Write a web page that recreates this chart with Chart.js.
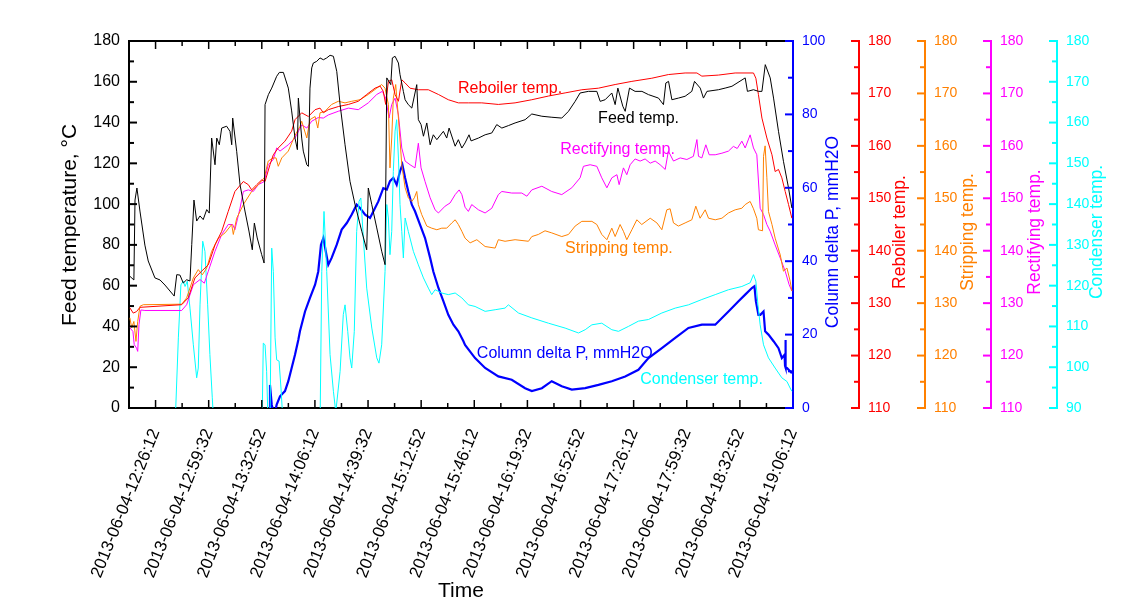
<!DOCTYPE html>
<html><head><meta charset="utf-8">
<script src="https://cdn.jsdelivr.net/npm/chart.js@4.4.1/dist/chart.umd.min.js"></script>
<style>html,body{margin:0;padding:0;background:#fff;}canvas{display:block;}</style>
</head><body>
<canvas id="c" width="1121" height="612"></canvas>
<script>
// x values: minutes after 2013-06-04 12:26:12
const timeTickLabels = ['2013-06-04-12:26:12','2013-06-04-12:59:32','2013-06-04-13:32:52','2013-06-04-14:06:12','2013-06-04-14:39:32','2013-06-04-15:12:52','2013-06-04-15:46:12','2013-06-04-16:19:32','2013-06-04-16:52:52','2013-06-04-17:26:12','2013-06-04-17:59:32','2013-06-04-18:32:52','2013-06-04-19:06:12'];

const feedTemp = [[-16.1,64.6],[-13.6,62.8],[-12.9,102.0],[-11.7,107.9],[-9.8,96.6],[-6.7,79.9],[-4.6,72.1],[-0.4,63.8],[2.8,62.8],[5.9,60.3],[10.1,56.4],[11.7,54.9],[13.3,65.4],[15.3,65.2],[17.4,61.3],[19.5,62.9],[21.6,62.3],[22.7,80.1],[24.1,102.0],[25.8,91.7],[27.9,94.2],[29.9,92.4],[32.1,97.3],[33.7,95.6],[35.2,132.4],[37.3,119.3],[38.4,132.4],[40.0,129.1],[41.5,137.3],[44.6,138.2],[46.7,135.7],[47.8,129.1],[48.4,142.2],[50.9,125.9],[53.0,109.5],[56.1,96.6],[58.6,86.8],[60.7,77.6],[62.0,90.7],[63.8,83.4],[66.6,75.2],[68.1,71.1],[68.7,148.8],[70.8,153.7],[72.9,156.9],[76.0,162.7],[77.7,164.6],[80.2,164.6],[83.3,156.9],[85.4,145.7],[87.5,132.4],[89.0,126.7],[89.6,152.0],[91.7,132.4],[92.7,126.0],[94.9,119.3],[95.9,118.5],[96.9,156.9],[98.0,166.8],[99.0,169.2],[101.1,170.0],[103.2,171.7],[105.3,170.8],[107.4,171.7],[109.5,173.0],[111.6,172.5],[113.7,165.1],[115.8,148.8],[118.9,129.1],[122.0,111.2],[125.2,99.7],[129.4,86.7],[132.5,77.6],[133.5,107.9],[135.7,99.7],[138.8,88.3],[141.9,76.9],[144.0,70.3],[145.1,161.9],[147.6,158.6],[148.6,171.7],[150.3,172.5],[152.4,169.2],[153.4,163.5],[155.5,155.3],[156.6,151.2],[158.6,148.8],[160.8,147.1],[163.9,158.6],[164.9,141.4],[166.6,139.0],[168.1,133.3],[170.2,139.8],[172.3,129.1],[174.3,134.0],[176.5,131.6],[180.6,135.7],[182.7,132.4],[184.2,137.3],[188.0,128.4],[190.0,131.6],[192.2,127.5],[194.2,130.0],[196.7,134.0],[198.0,131.0],[202.6,132.4],[206.8,134.0],[211.0,134.9],[214.1,139.0],[217.3,137.3],[221.4,138.5],[225.6,139.8],[231.9,141.4],[236.1,144.2],[242.4,143.1],[248.7,142.6],[254.9,142.2],[259.1,145.5],[263.3,150.4],[266.4,154.5],[271.6,155.3],[276.9,155.3],[279.0,150.4],[282.1,151.2],[286.3,154.5],[288.4,148.8],[290.1,156.9],[293.2,148.0],[294.7,145.5],[297.4,156.9],[300.9,155.3],[305.2,155.3],[309.3,153.7],[315.6,152.0],[318.7,148.8],[320.2,159.4],[321.9,160.2],[324.0,151.2],[328.1,152.0],[332.3,152.9],[336.5,155.3],[338.2,160.2],[341.8,156.9],[343.8,152.0],[346.0,155.3],[353.2,156.1],[357.4,156.9],[361.7,157.8],[370.0,161.9],[371.4,155.3],[375.2,156.1],[378.4,155.3],[380.5,155.3],[382.6,168.4],[385.7,161.9],[387.8,152.0],[390.9,135.7],[394.0,121.0],[397.2,107.9],[399.3,98.1]];

const reboilerTemp = [[-16.1,129.1],[-14.0,128.1],[-11.9,128.4],[-9.8,129.2],[16.4,129.7],[20.5,131.0],[24.7,134.8],[28.9,136.1],[33.1,137.3],[37.3,141.1],[41.5,143.7],[45.6,147.5],[49.8,151.3],[55.1,153.2],[58.2,152.6],[60.3,151.6],[63.5,152.6],[66.6,153.5],[68.7,153.2],[71.8,156.4],[73.9,158.3],[77.0,159.6],[81.2,160.9],[85.4,162.8],[87.5,165.0],[91.7,166.3],[95.9,165.6],[100.1,166.9],[103.2,167.2],[105.3,166.3],[108.4,166.9],[114.7,167.5],[121.0,167.9],[127.2,168.5],[132.5,169.8],[137.7,171.0],[140.9,171.4],[142.9,170.4],[144.4,167.9],[146.1,172.3],[148.2,172.6],[150.3,169.8],[152.4,168.5],[154.5,172.6],[156.6,172.0],[159.7,171.0],[164.9,170.7],[171.2,170.7],[177.5,169.8],[183.7,168.8],[190.0,168.2],[196.3,168.2],[204.7,168.2],[215.1,167.9],[225.6,168.2],[236.1,168.8],[246.5,169.5],[257.0,170.1],[267.5,170.7],[277.9,171.0],[288.4,171.7],[298.9,172.3],[311.4,172.9],[321.8,173.6],[332.3,173.9],[339.7,173.9],[342.8,173.3],[353.2,173.5],[363.7,173.9],[375.2,173.9],[376.7,172.9],[378.3,169.8],[380.5,165.3],[383.6,161.5],[386.8,158.3],[388.8,155.1],[390.9,155.5],[393.0,153.9],[395.1,151.3],[397.2,148.8],[399.3,146.2]];

const strippingTemp = [[-16.1,127.2],[-15.0,125.3],[-13.6,126.5],[-12.3,122.7],[-11.2,126.5],[-9.8,129.4],[-7.7,129.7],[16.4,129.8],[19.5,131.0],[23.7,134.8],[26.8,136.4],[29.3,135.4],[32.1,136.7],[35.2,139.9],[39.4,142.4],[43.6,143.4],[47.8,145.0],[48.8,143.1],[50.9,146.2],[55.1,148.8],[60.3,151.3],[64.5,152.6],[68.2,153.9],[70.7,157.1],[73.9,157.7],[75.6,157.7],[77.0,156.1],[79.2,157.7],[83.3,159.0],[87.5,162.0],[90.6,163.7],[91.7,164.7],[94.9,161.5],[96.9,165.0],[100.1,165.6],[101.8,163.4],[103.2,166.3],[106.3,166.6],[110.5,167.9],[114.7,168.5],[118.9,168.2],[123.1,168.5],[128.3,168.8],[133.5,169.8],[138.8,171.0],[141.9,171.7],[144.0,171.0],[146.1,167.9],[147.1,155.8],[148.2,161.5],[149.2,169.1],[150.7,171.7],[152.4,165.3],[154.5,156.4],[156.6,152.0],[158.6,150.1],[160.8,149.4],[162.4,150.1],[163.9,151.3],[164.9,148.8],[167.0,146.9],[170.2,144.7],[173.3,144.3],[176.5,144.0],[179.6,144.3],[182.7,144.3],[185.9,145.3],[188.0,145.9],[190.0,145.0],[192.2,143.7],[194.2,142.4],[197.4,141.5],[201.6,142.1],[206.8,140.8],[213.1,140.5],[215.1,142.1],[219.3,141.8],[225.6,142.1],[234.0,141.8],[236.1,142.7],[240.2,143.1],[244.4,143.8],[248.6,143.4],[254.9,142.7],[259.1,143.1],[263.3,144.7],[267.5,145.6],[273.8,145.6],[276.9,145.0],[280.0,143.1],[283.2,142.1],[286.3,144.3],[288.4,142.7],[291.5,145.0],[293.6,143.7],[295.7,142.1],[298.9,144.0],[302.0,145.9],[305.1,145.0],[310.4,146.2],[314.6,145.3],[317.7,144.0],[320.8,147.8],[322.9,148.0],[325.0,145.3],[328.1,144.7],[332.3,145.3],[336.5,145.9],[339.0,148.5],[341.7,146.2],[344.9,147.8],[347.0,146.2],[351.2,145.9],[355.4,146.2],[359.5,147.2],[363.7,147.8],[367.9,148.1],[370.0,148.8],[373.1,149.4],[375.2,148.0],[377.3,146.2],[378.3,144.0],[380.9,143.8],[381.5,158.0],[382.5,160.0],[383.6,153.9],[384.6,147.5],[386.8,145.0],[388.8,142.4],[392.0,139.2],[394.0,136.1],[396.2,136.7],[398.2,134.2],[399.3,132.3]];

const rectifyingTemp = [[-16.1,125.3],[-14.2,124.6],[-13.4,122.1],[-11.9,121.4],[-11.2,120.8],[-10.4,125.9],[-9.2,128.7],[-6.7,128.6],[16.4,128.6],[19.5,129.7],[23.7,133.5],[27.9,134.5],[30.6,133.8],[33.1,136.1],[37.3,139.9],[41.5,143.1],[45.6,145.0],[48.4,145.0],[49.8,144.0],[53.0,148.1],[55.1,151.3],[58.2,151.6],[61.3,151.3],[64.5,152.6],[68.2,153.2],[70.7,156.4],[73.9,157.4],[76.0,159.6],[78.1,159.0],[83.3,160.2],[87.5,161.5],[91.7,164.0],[94.9,163.4],[98.0,164.7],[102.1,165.4],[105.3,165.3],[108.4,165.9],[114.7,166.6],[121.0,167.2],[127.2,166.9],[133.5,168.2],[138.8,169.8],[142.3,170.4],[144.4,169.1],[146.5,165.3],[148.2,167.9],[150.3,169.1],[152.4,165.9],[154.5,159.6],[156.6,157.1],[159.7,156.4],[162.8,155.8],[164.9,160.5],[166.6,155.8],[169.1,153.2],[172.3,150.1],[175.4,147.8],[177.5,147.2],[181.7,148.5],[184.8,149.1],[188.0,150.7],[190.5,151.6],[192.2,150.7],[194.2,148.3],[196.3,147.5],[198.4,148.8],[202.6,147.8],[206.8,147.2],[211.0,148.1],[215.1,150.7],[217.3,151.3],[223.5,151.0],[229.8,151.0],[233.0,150.4],[236.1,151.6],[242.4,152.3],[248.6,151.3],[254.9,150.7],[261.2,152.0],[266.4,153.9],[268.5,156.1],[272.7,156.4],[276.9,156.1],[280.0,153.9],[283.2,152.0],[286.3,153.9],[289.5,154.5],[290.9,152.6],[293.6,155.8],[295.7,154.5],[297.8,156.4],[300.9,157.5],[304.1,157.1],[307.2,157.5],[310.4,156.7],[313.5,157.1],[316.6,156.4],[319.8,155.5],[321.8,159.0],[325.0,157.1],[329.2,157.7],[333.4,157.4],[337.5,158.0],[339.7,161.2],[340.7,158.0],[342.8,157.7],[345.3,160.2],[347.4,158.3],[351.2,158.3],[355.4,158.6],[359.5,159.0],[362.6,159.9],[365.0,159.5],[367.9,160.9],[370.0,159.6],[373.1,162.1],[375.2,159.6],[377.3,158.3],[379.4,148.1],[381.5,146.9],[383.6,145.0],[385.7,143.7],[388.8,141.1],[392.0,138.6],[395.1,136.1],[397.6,133.5],[399.3,132.3]];

const condenserTemp = [[-16.1,80],[12.2,85],[14.3,107.2],[15.9,120.2],[17.4,121.1],[18.5,119.8],[19.9,121.1],[21.6,114.5],[23.7,105.5],[25.8,97.4],[26.8,99.8],[27.9,115.3],[29.6,130.9],[31.0,128.4],[32.7,115.3],[34.1,103.1],[35.6,92.5],[36.7,85],[66.8,85],[67.6,105.9],[68.7,105.5],[69.7,99.0],[70.7,85],[71.8,85],[72.9,129.2],[73.9,123.5],[75.0,107.2],[76.0,101.8],[77.5,101.5],[78.7,94.9],[80.2,85],[103.2,85],[104.3,123.5],[105.7,138.2],[107.4,123.5],[109.5,103.1],[111.6,94.1],[113.1,89],[115.8,99.0],[117.8,112.9],[118.9,115.3],[120.6,108.8],[122.0,102.3],[123.1,99.8],[124.7,108.8],[126.2,133.3],[127.7,140.7],[128.8,141.5],[130.4,131.7],[132.5,119.4],[135.7,109.6],[138.8,102.3],[140.2,101.0],[141.9,105.5],[144.0,123.5],[145.1,139.9],[146.1,136.6],[147.1,127.6],[148.2,133.3],[149.2,148.0],[150.3,157.9],[151.3,160.7],[152.4,151.3],[153.4,139.9],[154.5,133.3],[155.5,126.8],[156.6,136.6],[158.6,133.3],[161.8,128.4],[164.9,125.1],[168.1,121.9],[171.2,119.4],[173.3,117.8],[175.4,119.0],[179.6,118.2],[183.7,117.8],[188.0,118.2],[192.2,117.0],[196.3,115.3],[200.5,114.9],[206.8,113.7],[213.1,114.1],[219.3,114.5],[221.4,115.3],[227.7,113.3],[236.1,112.1],[246.5,110.8],[257.0,109.6],[265.4,108.4],[269.6,109.2],[273.8,110.4],[280.0,110.8],[286.3,109.2],[290.5,108.8],[296.7,110.0],[303.0,111.3],[309.3,111.7],[317.7,113.3],[326.1,114.5],[334.4,115.3],[342.8,116.6],[351.2,117.8],[359.5,119.0],[367.9,119.8],[373.1,120.7],[375.2,122.7],[376.7,121.1],[378.0,115.3],[379.4,110.4],[381.5,105.5],[384.6,102.3],[388.8,99.8],[393.0,97.4],[396.2,96.5],[398.2,94.9],[399.3,94.1]];

const columnDeltaP = [[-16.1,-5],[71.5,-5],[71.8,6.3],[72.9,0.9],[74.5,-2],[76.0,0.9],[78.1,3.2],[81.2,4.6],[83.3,7.3],[85.4,10.9],[87.5,14.5],[89.6,18.6],[90.6,20.9],[93.8,26.3],[96.9,30.0],[100.1,33.6],[102.1,37.2],[103.8,44.5],[105.3,46.3],[106.8,42.7],[108.4,39.0],[110.5,40.9],[113.7,44.5],[116.8,48.6],[120.0,50.4],[123.1,52.7],[126.2,55.4],[128.3,54.5],[131.5,52.7],[134.6,51.8],[136.7,53.6],[139.8,56.3],[142.9,59.9],[145.1,59.5],[147.1,61.8],[149.2,62.7],[151.3,60.8],[153.4,64.5],[154.9,66.3],[156.6,62.7],[158.6,59.0],[160.8,55.4],[162.8,53.6],[166.0,49.9],[169.1,46.3],[172.3,40.9],[174.3,37.2],[177.5,32.7],[180.6,29.1],[183.7,25.4],[186.9,22.7],[190.0,20.9],[193.2,18.2],[194.2,17.2],[200.5,13.6],[206.8,10.9],[215.1,8.6],[223.5,7.7],[231.9,5.4],[236.1,4.6],[242.4,5.4],[248.6,7.3],[254.9,5.9],[261.2,5.0],[269.6,5.4],[277.9,6.3],[286.3,7.3],[294.7,8.6],[303.0,10.4],[309.3,13.6],[317.7,16.3],[326.1,19.1],[334.4,21.8],[342.8,22.7],[351.2,22.7],[359.5,26.3],[365.8,29.1],[370.0,30.9],[374.2,32.7],[375.8,33.2],[376.7,29.1],[378.3,25.4],[379.5,25.4],[381.5,26.3],[382.5,20.9],[384.6,20.0],[387.8,18.2],[390.9,16.3],[393.0,13.6],[394.7,14.5],[395.0,11.5],[395.2,18.5],[395.5,11.0],[396.2,10.9],[398.2,10.0],[399.3,9.5]];

// in-plot series labels (x in minutes, y in left-axis units)
const seriesLabels = [
  {text:'Reboiler temp.', t:189.8, v:156.5, color:'#ff0000'},
  {text:'Feed temp.', t:277.7, v:141.7, color:'#000000'},
  {text:'Rectifying temp.', t:253.9, v:126.5, color:'#ff00ff'},
  {text:'Stripping temp.', t:257.0, v:78.0, color:'#ff8000'},
  {text:'Column delta P, mmH2O', t:201.6, v:26.5, color:'#0000ff'},
  {text:'Condenser temp.', t:304.1, v:13.7, color:'#00ffff'}
];

const FONT = "'Liberation Sans', Arial, sans-serif";
Chart.defaults.font.family = FONT;

const yTickSpecs = [
  {id:'y', minor:10, major:20, color:'#000000', side:'left'},
  {id:'yP', minor:10, major:20, color:'#0000ff', side:'right'},
  {id:'yR', minor:5, major:10, color:'#ff0000', side:'right'},
  {id:'yS', minor:5, major:10, color:'#ff8000', side:'right'},
  {id:'yRe', minor:5, major:10, color:'#ff00ff', side:'right'},
  {id:'yC', minor:5, major:10, color:'#00ffff', side:'right'}
];
const axisTitles = [
  {id:'y', text:'Feed temperature, \u00B0C', color:'#000000', size:21, dx:70, cy:225},
  {id:'yP', text:'Column delta P, mmH2O', color:'#0000ff', size:17.5, dx:40, cy:232},
  {id:'yR', text:'Reboiler temp.', color:'#ff0000', size:17.5, dx:41, cy:232},
  {id:'yS', text:'Stripping temp.', color:'#ff8000', size:17.5, dx:43, cy:232},
  {id:'yRe', text:'Rectifying temp.', color:'#ff00ff', size:17.5, dx:44, cy:232},
  {id:'yC', text:'Condenser temp.', color:'#00ffff', size:17.5, dx:40, cy:232}
];

const decor = {
  id:'decor',
  afterDraw(chart) {
    const {ctx, chartArea:a, scales:s} = chart;
    const seg = (x1,y1,x2,y2)=>{ctx.beginPath();ctx.moveTo(x1,y1);ctx.lineTo(x2,y2);ctx.stroke();};
    ctx.save();
    ctx.strokeStyle = '#000'; ctx.lineWidth = 2;
    seg(a.left-1, a.top, a.right, a.top);
    ctx.lineWidth = 1.5;
    for (let i = 0; i <= 24; i++) {
      const p = s.x.getPixelForValue(-50/3 + i*50/3);
      const L = (i % 2 === 1) ? 8 : 5;
      seg(p, a.bottom, p, a.bottom - L);
      seg(p, a.top, p, a.top + L);
    }
    yTickSpecs.forEach(sp => {
      const sc = s[sp.id];
      ctx.strokeStyle = sp.color; ctx.lineWidth = 2;
      const n = Math.round((sc.max - sc.min) / sp.minor);
      for (let j = 0; j <= n; j++) {
        const v = sc.min + j*sp.minor;
        const major = Math.abs(((v - sc.min) / sp.major) - Math.round((v - sc.min) / sp.major)) < 1e-6;
        const L = major ? 8 : 5;
        const p = sc.getPixelForValue(v);
        if (sp.side === 'left') seg(sc.right, p, sc.right + L, p);
        else seg(sc.left, p, sc.left - L, p);
      }
    });
    axisTitles.forEach(t => {
      const sc = s[t.id];
      ctx.save();
      ctx.translate(sc.left + t.dx, t.cy);
      ctx.rotate(-Math.PI/2);
      ctx.fillStyle = t.color; ctx.font = t.size + 'px ' + FONT;
      ctx.textAlign = 'center'; ctx.textBaseline = 'middle';
      ctx.fillText(t.text, 0, 0);
      ctx.restore();
    });
    ctx.fillStyle = '#000'; ctx.font = '21px ' + FONT;
    ctx.textAlign = 'center'; ctx.textBaseline = 'middle';
    ctx.fillText('Time', (a.left + a.right)/2, 591);
    ctx.font = '16px ' + FONT; ctx.textAlign = 'left';
    seriesLabels.forEach(l => {
      ctx.fillStyle = l.color;
      ctx.fillText(l.text, s.x.getPixelForValue(l.t), s.y.getPixelForValue(l.v));
    });
    ctx.restore();
  }
};

const toXY = arr => arr.map(([x,y]) => ({x, y}));
const ds = (label, data, color, axis, w) => ({label, data: toXY(data), borderColor: color, backgroundColor: color, yAxisID: axis, borderWidth: w, pointRadius: 0, tension: 0, fill: false, clip: 0});

const rightAxis = (min, max, step, color, weight, width) => ({
  position:'right', min, max, weight,
  grid:{display:false, drawTicks:false},
  border:{display:true, color, width:2},
  ticks:{stepSize:step, color, padding:9, font:{size:14}},
  afterFit: sc => { sc.width = width; }
});

new Chart(document.getElementById('c'), {
  type:'line',
  data:{datasets:[
    ds('Feed temp.', feedTemp, '#000000', 'y', 1),
    ds('Reboiler temp.', reboilerTemp, '#ff0000', 'yR', 1),
    ds('Stripping temp.', strippingTemp, '#ff8000', 'yS', 1),
    ds('Rectifying temp.', rectifyingTemp, '#ff00ff', 'yRe', 1),
    ds('Condenser temp.', condenserTemp, '#00ffff', 'yC', 1),
    ds('Column delta P, mmH2O', columnDeltaP, '#0000ff', 'yP', 2.2)
  ]},
  options:{
    responsive:false, animation:false, parsing:true,
    layout:{padding:{top:41, left:0, right:0, bottom:0}},
    plugins:{legend:{display:false}, tooltip:{enabled:false}},
    scales:{
      x:{type:'linear', position:'bottom', min:-50/3, max:400,
        grid:{display:false, drawTicks:false},
        border:{display:true, color:'#000', width:2},
        afterBuildTicks: sc => { sc.ticks = timeTickLabels.map((_, i) => ({value: i*100/3})); },
        ticks:{autoSkip:false, minRotation:68, maxRotation:68, padding:18, color:'#000', font:{size:17},
          callback:(v, i) => timeTickLabels[i]},
        afterFit: sc => { sc.height = 204; }
      },
      y:{position:'left', min:0, max:180,
        grid:{display:false, drawTicks:false},
        border:{display:true, color:'#000', width:2},
        ticks:{stepSize:20, color:'#000', padding:9, font:{size:16}},
        afterFit: sc => { sc.width = 129; }
      },
      yP: rightAxis(0, 100, 20, '#0000ff', 0, 66),
      yR: rightAxis(110, 180, 10, '#ff0000', 1, 66),
      yS: rightAxis(110, 180, 10, '#ff8000', 2, 66),
      yRe: rightAxis(110, 180, 10, '#ff00ff', 3, 66),
      yC: rightAxis(90, 180, 10, '#00ffff', 4, 64)
    }
  },
  plugins:[decor]
});
</script>
</body></html>
